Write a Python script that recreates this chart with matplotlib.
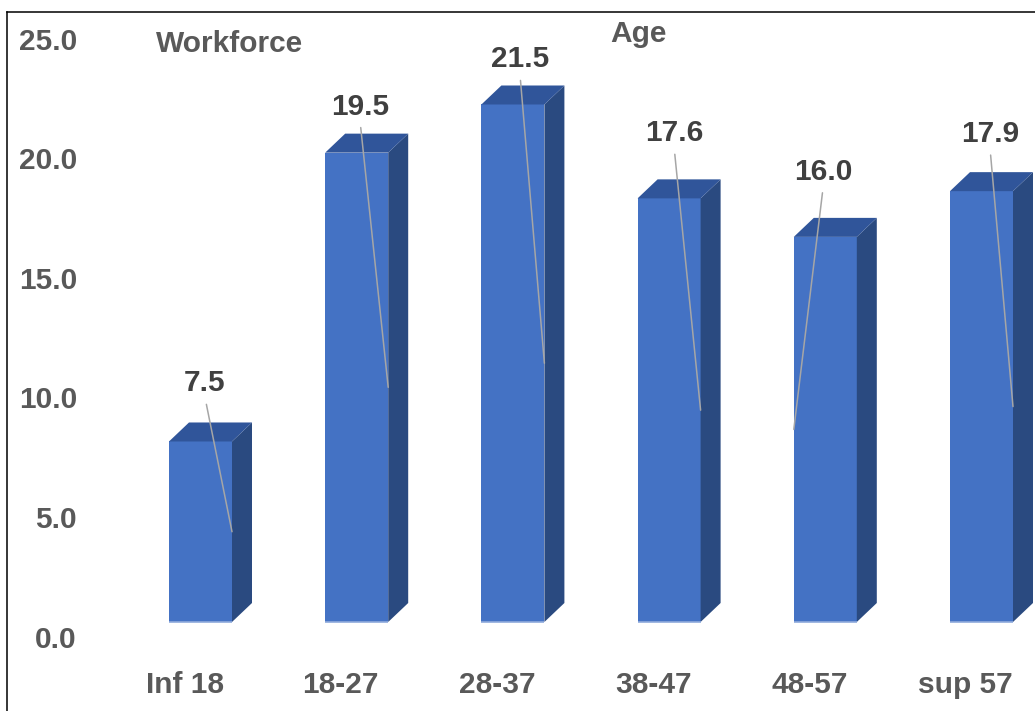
import numpy as np
import matplotlib
matplotlib.use('Agg')
import matplotlib.pyplot as plt
from matplotlib.patches import Polygon
from matplotlib.lines import Line2D
from matplotlib.transforms import ScaledTranslation

plt.rcParams['font.family'] = ['Liberation Sans', 'DejaVu Sans']
plt.rcParams['font.weight'] = 'bold'

# data
age_groups = ['Inf 18', '18-27', '28-37', '38-47', '48-57', 'sup 57']
workforce = [7.5, 19.5, 21.5, 17.6, 16.0, 17.9]
yticks = [0, 5, 10, 15, 20, 25]

# layout (pixels on a 1035x711 canvas)
W, H = 1035, 711
XS, YS = 156.2, 24.07          # px per category, px per unit
X0, Y0 = 200.5, 622            # first bar centre, bar baseline
AX_BOTTOM = 650
BAR_W = 63 / XS
DX, DY = 20 / XS, 19 / YS      # 3-D depth offset
label_off = [(4.5, 58), (3.3, 46), (7, 45), (5, 65), (-2, 65), (8.5, 57)]
leader_side = [1, 1, 1, 1, -1, 1]

FRONT, TOP, SIDE = '#4472C4', '#30559A', '#2A4A80'
GREY, DARK, LEAD = '#595959', '#404040', '#A6A6A6'
FS = 21.5

fig = plt.figure(figsize=(W / 100, H / 100), dpi=100)
ax = fig.add_axes([0, (H - AX_BOTTOM) / H, 1, AX_BOTTOM / H])
ax.set_xlim(-X0 / XS, (W - X0) / XS)
ax.set_ylim((Y0 - AX_BOTTOM) / YS, Y0 / YS)
for sp in ax.spines.values():
    sp.set_visible(False)
ax.set_yticks([])

x = np.arange(len(workforce))
ax.bar(x, workforce, width=BAR_W, color=FRONT, zorder=3)
for i, v in zip(x, workforce):
    r, l = i + BAR_W / 2, i - BAR_W / 2
    ax.add_patch(Polygon([(r, 0), (r + DX, DY), (r + DX, v + DY), (r, v)],
                         closed=True, fc=SIDE, ec='none', zorder=3))
    ax.add_patch(Polygon([(l, v), (l + DX, v + DY), (r + DX, v + DY), (r, v)],
                         closed=True, fc=TOP, ec='none', zorder=3))
    ax.plot([l, r], [0, 0], color='#8FAADC', lw=1.2, zorder=4, solid_capstyle='butt')

# data labels with leader lines
for i, v, (ox, oy), s in zip(x, workforce, label_off, leader_side):
    ax.annotate(f'{v:.1f}', xy=(i + s * BAR_W / 2, v / 2),
                xytext=(i + ox / XS, v + oy / YS), textcoords='data',
                ha='center', va='center', fontsize=FS, color=DARK, zorder=6,
                arrowprops=dict(arrowstyle='-', color=LEAD, lw=1.1,
                                shrinkA=3, shrinkB=0, relpos=(0.5, 0)))

ax.set_xticks(x, age_groups)
ax.tick_params(axis='x', length=0, pad=15, labelsize=FS, labelcolor=GREY)
for lab in ax.get_xticklabels():
    lab.set_transform(lab.get_transform() + ScaledTranslation(-16 / 100, 0, fig.dpi_scale_trans))

# value axis labels sit on the back wall, slightly offset from the bars
ax2 = fig.add_axes([80 / W, 0, 0.001, 1], frameon=False)
ax2.set_ylim((636.5 - H) / 23.9, 636.5 / 23.9)
ax2.set_xticks([])
ax2.set_yticks(yticks, [f'{t:.1f}' for t in yticks])
ax2.tick_params(axis='y', length=0, pad=2.2, labelsize=FS, labelcolor=GREY)

fig.text(230 / W, 1 - 52 / H, 'Workforce', ha='center', va='baseline', fontsize=FS, color=GREY)
fig.text(638 / W, 1 - 42 / H, 'Age', ha='center', va='baseline', fontsize=FS, color=GREY)

# frame (left and top edges only visible)
fig.add_artist(Line2D([7 / W, 7 / W], [0, 1 - 11.5 / H], color='black', lw=1.1))
fig.add_artist(Line2D([7 / W, 1], [1 - 11.5 / H, 1 - 11.5 / H], color='black', lw=1.1))

fig.savefig('out.png', dpi=100)
